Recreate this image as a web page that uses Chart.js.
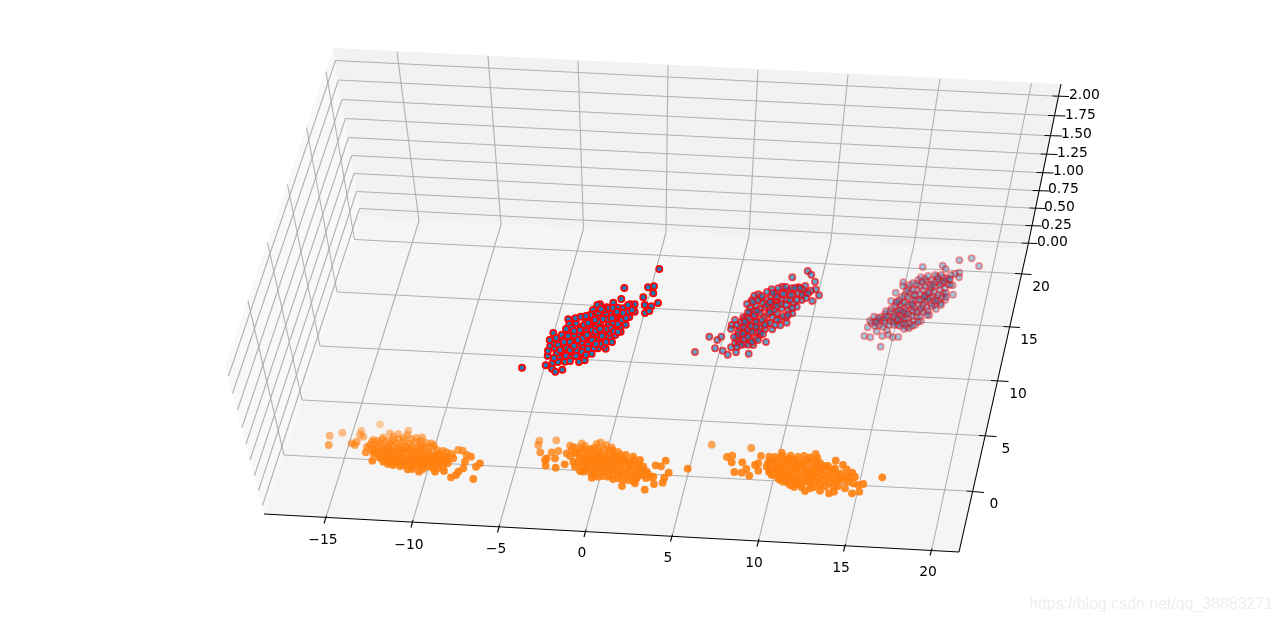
<!DOCTYPE html>
<html><head><meta charset="utf-8">
<style>html,body{margin:0;padding:0;background:#fff}canvas{display:block}</style>
<script src="https://cdn.jsdelivr.net/npm/chart.js@4/dist/chart.umd.js"></script>
</head><body><canvas id="c" width="1280" height="623"></canvas>
<script>
const xTickLabels=["\u221215","\u221210","\u22125","0","5","10","15","20"];
const xLabelPos=[[323,540],[409,545],[496,549],[582,553],[668,558],[754,563],[841,568],[928,572]];
const xGridFront=[[326.5,515.5],[413,520],[499.5,525],[586,529.5],[672.5,534.5],[759,539],[845.5,544],[932,548.5]];
const xGridBack=[[419,221],[501,224.5],[583.5,228.5],[666,232.5],[749,236.5],[831,240.5],[914,244.5],[997,248.5]];
const xGridTop=[[397,52],[488,56],[578,60.5],[668,65],[758,70],[848,74.5],[940,79],[1031.5,83.5]];
const xTickOuter=[[324,523.5],[411,527.5],[497.5,532.5],[584,537],[670.5,541.5],[757,546.5],[843.5,551.5],[930,555.5]];
const yTickLabels=["0","5","10","15","20"];
const yLabelPos=[[994,504],[1006,449],[1018,394],[1029,340],[1041,287]];
const yTickInner=[[966.5,491],[979,435.5],[991,380.5],[1003.5,326.5],[1015,273.5]];
const yTickOuter=[[984,492.5],[996.5,436.5],[1008.5,381.5],[1020,327.5],[1031.5,274.5]];
const yGridFloor=[[284,455],[302,400],[320,346],[337,292],[354.5,239.5]];
const yGridTop=[[248,301],[267.5,242.5],[287.5,184.5],[306.5,127.5],[326,71.5]];
const zTickLabels=["0.00","0.25","0.50","0.75","1.00","1.25","1.50","1.75","2.00"];
const zLabelPos=[[1037,242],[1041,225],[1044,207],[1048,189],[1053,171],[1057,153],[1061,134],[1065,115],[1069,95]];
const zTickInner=[[1021.5,243],[1025.5,225.5],[1029.5,208],[1032.5,190.5],[1036.5,172.5],[1040.5,154],[1044.5,135.5],[1048,115.5],[1052.5,96]];
const zTickOuter=[[1037.5,243.5],[1041.5,226],[1045.5,208.5],[1049.5,191],[1053.5,173],[1057.5,154.5],[1062,136],[1065.5,116],[1069,96.5]];
const zGridBack=[[359.5,208.5],[356.5,191.5],[354,173.5],[351.5,155.5],[348.5,137.5],[345.5,118.5],[342,99.5],[338.5,80],[335.5,60.5]];
const zGridFront=[[262.5,505.5],[258.5,490.5],[254.5,475.5],[250,460],[246,444],[242,427.5],[237.5,410],[232.5,393.5],[228.5,376]];
const paneBack=[[333,48],[1061,84],[1027,250],[361,217.5]];
const paneLeft=[[333,48],[361,217.5],[264,514],[225,366]];
const paneFloor=[[361,217.5],[1027,250],[959,552],[264,514]];
const axisX=[[264,514],[959,552]];
const axisY=[[959,552],[1027,250]];
const axisZ=[[1027,250],[1061,84]];
const watermark="https://blog.csdn.net/qq_38883271";

const blueA=[[522,367.7],[659.3,269],[624.3,288],[648,287.3],[654,286.3],[653.3,293.3],[643.3,297.3],[621.3,299],[644.7,305],[651.3,306.3],[658,303],[645,313],[649.3,311],[545.7,365.3],[552,368.7],[555.3,371.7],[562.3,369.7],[552.7,362.7],[565,361.7],[559,358],[547.7,355.7],[548,350.7],[550.3,345.7],[553.3,333],[549.7,340],[561.7,352.3],[555,348.3],[565,354.3],[572.7,351.3],[579,362],[584.7,360.3],[580.7,354.3],[587.7,352.7],[591.7,353.7],[598,348.3],[605.7,348.7],[603.3,345.7],[561.7,335],[569.3,333.3],[576.7,332.3],[560,341],[565.3,339],[571,338.3],[575,339],[580,338.3],[563.3,346.7],[571.7,345],[578.3,345],[585,342.3],[591.7,344.3],[597.3,340],[601,340],[610,338.3],[615.3,335],[620.7,331.7],[625.7,324.7],[620,327.3],[615,328.3],[609,332.7],[604.3,328.3],[598.3,334.3],[591.7,335],[585.3,329.7],[581.7,327.7],[590,326.7],[595.7,327.3],[600,323.3],[608.7,323.3],[616.3,319],[623.3,316.3],[629.3,317],[634.7,311.7],[634.7,304.3],[630,304.3],[627.7,308.3],[622.7,308.3],[617.7,307.7],[613.3,302.7],[606.7,307.3],[600,304.3],[597.3,305],[593,310],[594,314.3],[598.7,313.7],[606,314.3],[611.7,312.3],[616,318.3],[568.3,319.3],[569.3,324],[576,323.3],[575.3,318.3],[580.7,316.7],[586.3,320.3],[592.7,320.3],[600,318.3],[585,335],[578.3,333.7],[605,336.7],[590,338.3],[583.3,348.3],[576.7,350],[566.7,348.3],[610,318.3],[620,321.7],[628.3,311.7],[602.7,332.3],[613.3,323.3],[588.3,345],[581.7,342.3],[555,343.3],[556.7,353.3],
[556,338],[558,345],[564,342],[568,336],[570,342],[574,335],[578,340],[583,338],[587,335],[572,328],[574,331],[580,330],[584,325],[588,323],[592,330],[596,331],[600,329],[602,336],[607,329],[611,328],[614,331],[618,324],[622,320],[626,318],[632,310],[628,305],[620,312],[614,316],[608,319],[603,319],[598,322],[594,317],[590,315],[586,316],[604,310],[609,308],[613,308],[617,312],[601,309],[595,320],[612,318],[623,313],[558,362],[554,358],[560,350],[566,356],[570,350],[574,346],[582,352],[588,349],[594,348],[600,344],[606,342],[571,358],[576,356],[570,361],[586,355],[592,340],[596,344],[612,342],[618,332],[566,329]];
const blueB=[[695,352],[709.3,336.7],[717.3,340],[721.3,336.7],[715,348.3],[722.7,350.7],[727.7,354.7],[736,352.3],[748.7,353.7],[766,342],[792.3,277.3],[807.7,271],[811.3,274.7],[815,281.7],[819,295.3],[812.3,301],[815.7,289.3],[731,347.3],[735,343.3],[739,342.7],[744.3,344],[748.3,344.7],[753.3,345],[736.7,338.3],[741.7,336],[750,340],[755.7,338.3],[760,335],[731.7,325],[735,320],[731,329],[740,328.3],[746.7,325],[753.3,328.3],[756.7,331.7],[765,329.3],[772.3,329.3],[780.3,325.3],[786.7,322.7],[786.3,317.3],[792.3,313.3],[796.7,306.7],[801.7,300],[805,293.3],[798.3,287.3],[805.3,286],[811,290.7],[782.3,286.7],[771.7,289.3],[776.7,292.7],[758.3,294.3],[754.3,295.7],[751.7,300.3],[747,304],[743.3,317.3],[750,312.7],[755,317.3],[761,298.3],[766.7,300],[771,296],[781.7,300],[788.3,290.7],[793.3,295],[785,293.3],[775,301.7],[765,307.3],[760,309.3],[770,308.3],[776.7,313.3],[781.7,308.3],[793.3,303.3],[788.3,310],[772.3,317.3],[764.3,317.3],[759,323.3],[766.7,323.3],[780,319.3],[751.7,321.7],[746.7,316.7],[745,331.7],[738.3,331.7],[760,328.3],[749,333.3],[755.7,305],[798.3,293.3],[803.3,290],[808.3,293.3],[778.3,288.3],[791.7,288.3],[786.7,300],[750,308.3],[753.3,311.7],[771.7,301.7],
[737,325],[741,322],[744,320],[738,335],[744,327],[743,334],[748,330],[751,326],[749,319],[745,322],[756,322],[754,315],[748,312],[760,313],[762,320],[757,311],[763,303],[767,305],[774,305],[778,297],[783,294],[770,302],[774,310],[768,314],[777,320],[783,316],[788,315],[792,308],[797,300],[802,295],[800,288],[795,288],[786,287],[776,296],[781,304],[786,305],[790,300],[758,300],[762,296],[767,292],[773,293],[753,302],[752,332],[756,327],[760,332],[765,325],[770,323],[775,325],[763,334],[741,345],[737,347],[734,337],[744,339],[748,337],[752,342],[758,340],[777,306],[791,295],[806,298],[770,312]];
const blueC=[[880.7,346.7],[864.3,336],[870.3,337.3],[882.3,336],[888.3,334.7],[892.7,337.3],[898.3,337],[867.7,327.3],[876.7,331.3],[922.7,267],[959.3,260.3],[971.7,258.3],[979,266],[942.7,265.7],[945.7,269],[953,294.7],[929.3,315],[895.7,292.7],[903.3,282.3],[952.7,285.3],[959.3,272.7],[959,277.3],[955,274],[870,320.7],[874,316.7],[871.7,323.3],[880,320],[879,325.3],[875,321.7],[885,314.3],[888.3,316.7],[890,320.7],[897.7,325],[896.7,320.7],[906.7,326.7],[909,328.3],[913.3,320.7],[921,321],[891.7,308.3],[896.7,302.3],[891,301],[900,305],[905,301.7],[908.3,288.3],[905,295],[910,293.3],[918.3,280],[921,277.3],[926.7,281.7],[930,285],[937.3,276.7],[943.3,277.3],[942.3,283.3],[947.7,284],[940,290],[935,286.7],[930,291.7],[923.3,290],[916.7,290],[915,300],[921.7,300],[926.7,296.7],[933.3,296.7],[943.3,293.3],[945,300],[940.7,303.3],[935,305],[926.7,307.3],[920,310],[913.3,311.7],[905,313.3],[900,315],[893.3,313.3],[905,308.3],[911.7,305],[918.3,305],[898.3,310],[925,301.7],[936.7,298.3],[931,303.3],[916.7,316.7],[908.3,318.3],[901.7,320],[931.7,280],[940,281.7],[946.7,278.3],
[881,317],[884,320],[893,318],[885,323],[875,326],[890,311],[897,312],[902,317],[905,319],[912,316],[900,310],[904,303],[908,305],[912,300],[916,296],[920,294],[925,295],[930,298],[934,292],[938,295],[908,297],[914,295],[920,286],[925,286],[931,288],[935,282],[940,285],[945,288],[949,280],[925,279],[912,310],[917,312],[923,305],[928,300],[923,312],[909,323],[902,323],[906,311],[895,306],[899,300],[910,285],[942,297],[938,301],[946,293],[951,275],[915,325],[920,317],[928,311],[900,326],[887,330],[903,286],[913,283],[935,275],[941,275],
[878,318],[886,317],[893,322],[883,327],[889,325],[895,316],[898,319],[903,312],[908,314],[914,307],[919,300],[924,297],[928,293],[933,285],[938,279],[944,281],[950,285],[946,297],[941,305],[936,309],[932,306],[927,315],[918,322],[912,326],[904,329],[897,302],[902,297],[907,291],[913,290],[917,284],[922,282],[928,276],[950,279],[894,325],[886,311],[877,322],[905,324],[921,308],[935,301],[912,304]];
const orangeA=[[329.7,435.7],[328.7,445],[342.3,432.7],[380,424.3],[361.3,431],[360,434.7],[363.3,436.7],[351.7,443.3],[355,445],[356.7,441.7],[372.3,460.7],[365.7,452.3],[373.3,440],[383.3,437.3],[390,433.3],[408.3,430.7],[407.3,435],[422.3,437.3],[398.3,434],[393.3,436.7],[370,445],[375,448.3],[380,443.3],[385,446.7],[390,443.3],[396.7,443.3],[403.3,441.7],[410,443.3],[416.7,441.7],[431.7,443.3],[436.7,450],[378.3,455],[385,456.7],[390,461.7],[398.3,455],[403.3,450],[408.3,453.3],[415,451.7],[421.7,450],[428.3,451.7],[383.3,461.7],[396.7,463.3],[405,461.7],[411.7,461.7],[420,460],[426.7,458.3],[433.3,456.7],[440,455],[446.7,452.3],[458.3,450],[462.7,450.7],[466.7,455],[471,456.7],[465,461.7],[476,466.7],[480,463.3],[463.3,468.3],[458.3,471.7],[456,475],[451,477.3],[473.3,479],[407.7,469.3],[419,471.7],[435,471.7],[428.3,466.7],[443.3,466.7],[446,460],[453.3,458.3],[436.7,463.3],[393.3,451.7],[373.3,453.3],[400,446.7],[390,450],[413.3,456.7],[423.3,465],[431.7,465],[388.3,455],[420,445],
[372,442],[377,441],[382,440],[387,441],[393,440],[399,439],[404,438],[411,439],[416,438],[421,441],[426,443],[434,446],[367,447],[372,449],[378,446],[383,449],[388,447],[393,446],[398,449],[405,446],[412,447],[418,448],[424,447],[430,447],[438,454],[443,451],[447,457],[452,454],[375,452],[381,452],[387,452],[396,452],[401,454],[406,449],[411,450],[417,454],[423,454],[430,455],[436,458],[442,459],[380,458],[386,460],[392,458],[397,459],[403,458],[409,458],[415,459],[422,457],[429,461],[434,460],[440,462],[448,463],[388,464],[393,465],[400,466],[404,465],[410,466],[415,465],[420,465],[426,462],[433,468],[438,468],[444,471],[412,469],[423,469],[401,462],[395,461],[418,463]];
const orangeB=[[539.3,440.7],[538.3,445],[540.3,452.3],[556.3,440.3],[551.7,452.3],[546.7,458.3],[545,460],[545.7,465.7],[558.3,451],[555,458.3],[555.7,467.7],[564.7,464.3],[665.7,460.7],[655.7,465.3],[661,466.3],[668.7,472.7],[687.7,468.7],[664.3,477.7],[662.7,482.7],[654,484],[644.7,489.7],[622,486],[635,483.3],[570,445.7],[571.7,450],[566.7,453.3],[581.7,443.3],[581.7,448.3],[590,449],[596.7,444],[600.7,442.3],[606,445],[611.7,447.3],[580,471],[575,466.7],[573.3,461.7],[580,458.3],[586.7,456.7],[593.3,455],[600,451.7],[608.3,453.3],[615,455],[623.3,458.3],[633.3,456.7],[640,460],[643.3,466.7],[646.7,471.7],[653.3,476.7],[591.7,477.7],[598.3,476.7],[608.3,476.7],[618.3,478.3],[628.3,480],[636.7,478.3],[643.3,475],[586.7,466.7],[595,466.7],[603.3,463.3],[611.7,463.3],[620,466.7],[628.3,466.7],[636.7,468.3],[593.3,460],[601.7,470],[610,470],[618.3,471.7],[626.7,473.3],[635,473.3],[583.3,471.7],[590,461.7],[606.7,458.3],[616.7,460],[630,461.7],[576.7,453.3],[585,450],
[573,447],[577,448],[575,453],[570,456],[580,452],[585,446],[588,453],[594,448],[592,451],[598,448],[604,449],[597,454],[603,456],[610,450],[613,451],[618,452],[621,455],[626,455],[578,462],[583,458],[585,462],[589,458],[596,458],[600,456],[599,461],[605,462],[609,461],[614,458],[620,460],[625,461],[634,460],[581,466],[591,465],[597,464],[600,467],[606,467],[615,465],[623,463],[632,464],[639,464],[585,469],[590,472],[595,471],[605,472],[613,468],[622,470],[630,470],[640,470],[644,471],[648,474],[594,475],[603,476],[613,474],[622,475],[631,476],[638,476],[613,479],[623,480],[633,481],[646,478],[650,477]];
const orangeC=[[711.7,444.7],[751.3,448],[727,457],[732.3,455.7],[731.7,462.3],[742.3,462.3],[761,456],[734.3,472],[741.7,472.7],[746.3,469],[749.3,475.7],[882.3,477.3],[755,465],[758.3,463.3],[758.3,470.7],[769.3,456.7],[781.7,452.7],[790.7,455.7],[804,456],[810,457.3],[815.7,454],[817.3,457.7],[835.7,460.7],[843,465],[846.7,469.3],[852.3,472.7],[855,476.7],[863.3,484],[858.3,485],[859.3,491.7],[852,493.3],[845,488.3],[843.3,480],[835,468.3],[825,466],[773.3,460],[780,458.3],[786.7,460],[795,460],[803.3,461.7],[766.7,466.7],[773.3,468.3],[781.7,466.7],[788.3,466.7],[796.7,466.7],[805,468.3],[813.3,468.3],[820,470],[771.7,475],[780,475],[788.3,475],[796.7,473.3],[805,475],[813.3,475],[821.7,475],[828.3,471.7],[783.3,481.7],[790,485],[798.3,481.7],[806.7,481.7],[815,481.7],[823.3,480],[831.7,478.3],[801.7,487.3],[805,491],[810,488.3],[820,490.7],[829,493.3],[834,491.7],[833.3,486.7],[825,486.7],[848.3,481.7],[853.3,483.3],[840,473.3],[776.7,470],[793.3,480],
[770,461],[775,457],[778,463],[783,456],[786,463],[790,459],[793,463],[798,457],[800,464],[807,460],[810,463],[815,461],[820,463],[768,463],[770,470],[776,466],[779,470],[784,463],[785,470],[791,470],[794,468],[800,470],[802,465],[808,471],[811,472],[817,471],[816,465],[823,468],[828,466],[832,470],[769,472],[774,473],[778,478],[784,475],[786,478],[792,477],[796,478],[801,477],[808,478],[811,478],[818,478],[827,476],[835,474],[838,479],[780,480],[787,482],[795,484],[802,482],[811,484],[820,485],[829,483],[836,482],[841,477],[846,476],[850,477],[800,484],[814,487],[838,486],[794,487]];

const pts=a=>a.map(p=>({x:p[0],y:p[1]}));
const datasets=[];
function poly(a,color){datasets.push({data:pts(a),showLine:true,fill:'shape',backgroundColor:color,borderWidth:0,pointRadius:0,order:10});}
function seg(p,q,color,w,ord){datasets.push({data:pts([p,q]),showLine:true,fill:false,borderColor:color,borderWidth:w,pointRadius:0,order:ord});}
poly(paneBack,'#f2f2f2');poly(paneLeft,'#f8f8f8');poly(paneFloor,'#f5f5f5');
const GRID='#b0b0b0';
xGridFront.forEach((p,i)=>{seg(p,xGridBack[i],GRID,1.1,9);seg(xGridBack[i],xGridTop[i],GRID,1.1,9);});
yGridFloor.forEach((p,i)=>{seg(yTickInner[i],p,GRID,1.1,9);seg(p,yGridTop[i],GRID,1.1,9);});
zGridBack.forEach((p,i)=>{seg(zTickInner[i],p,GRID,1.1,9);seg(p,zGridFront[i],GRID,1.1,9);});
[axisX,axisY,axisZ].forEach(a=>seg(a[0],a[1],'#000',1.1,8));
xGridFront.forEach((p,i)=>seg(p,xTickOuter[i],'#000',1.1,8));
yTickInner.forEach((p,i)=>seg(p,yTickOuter[i],'#000',1.1,8));
zTickInner.forEach((p,i)=>seg(p,zTickOuter[i],'#000',1.1,8));
function blue(a,alpha){datasets.push({data:pts(a),showLine:false,pointRadius:3.1,pointBorderWidth:1.7,
  pointBackgroundColor:`rgba(31,119,180,${alpha})`,pointBorderColor:`rgba(255,0,0,${alpha})`,order:2});}
blue(blueC,0.38);blue(blueB,0.68);blue(blueA,1);
const orangeAlpha=c=>{const r=c.raw;if(!r)return 'rgba(255,127,14,0.9)';
  const al=Math.max(0.35,Math.min(0.9,0.35+(r.y-424)*0.0155));return `rgba(255,127,14,${al})`;};
[orangeA,orangeB,orangeC].forEach(a=>datasets.push({data:pts(a),showLine:false,pointRadius:3.9,pointBorderWidth:0,pointBackgroundColor:orangeAlpha,order:1}));

const textPlugin={id:'axisText',afterDraw(chart){
  const {ctx,scales:{x,y}}=chart;ctx.save();
  ctx.font='13.89px "DejaVu Sans"';ctx.fillStyle='#000';ctx.textBaseline='middle';
  ctx.textAlign='center';
  xTickLabels.forEach((t,i)=>ctx.fillText(t,x.getPixelForValue(xLabelPos[i][0]),y.getPixelForValue(xLabelPos[i][1])));
  yTickLabels.forEach((t,i)=>ctx.fillText(t,x.getPixelForValue(yLabelPos[i][0]),y.getPixelForValue(yLabelPos[i][1])));
  ctx.textAlign='left';
  zTickLabels.forEach((t,i)=>ctx.fillText(t,x.getPixelForValue(zLabelPos[i][0]),y.getPixelForValue(zLabelPos[i][1])));
  ctx.font='15.9px "Liberation Sans"';ctx.fillStyle='#eeeeee';ctx.textAlign='right';
  ctx.fillText(watermark,x.getPixelForValue(1273),y.getPixelForValue(605));
  ctx.restore();
}};
new Chart(document.getElementById('c'),{type:'scatter',data:{datasets},plugins:[textPlugin],options:{
  responsive:false,animation:false,layout:{padding:0,autoPadding:false},
  plugins:{legend:{display:false},tooltip:{enabled:false}},
  scales:{x:{type:'linear',min:0,max:1280,display:false},y:{type:'linear',min:0,max:623,reverse:true,display:false}}
}});
</script></body></html>
